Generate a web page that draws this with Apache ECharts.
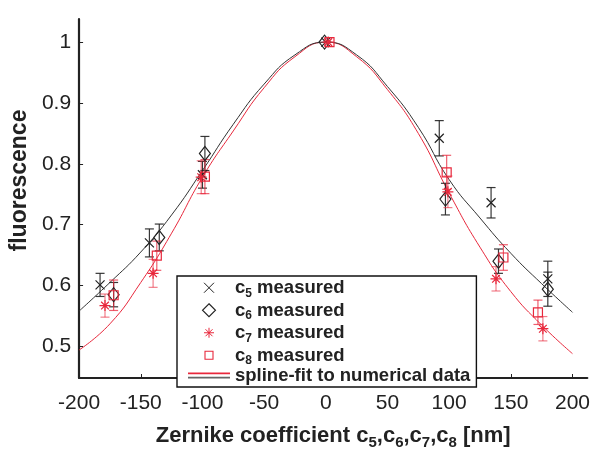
<!DOCTYPE html>
<html>
<head>
<meta charset="utf-8">
<script src="https://cdn.jsdelivr.net/npm/echarts@6/dist/echarts.min.js"></script>
<style>
  html, body { margin: 0; padding: 0; background: #fff; }
  #myChart { width: 593px; height: 455px; }
</style>
</head>
<body>
<div id="myChart"></div>
<script>
// measured points (x in nm, fluorescence, error)
var c5X = [-183, -143, -100, 0, 92, 134, 180];
var c5Y = [0.601, 0.670, 0.782, 1.0, 0.842, 0.736, 0.611];
var c5Err = [0.019, 0.023, 0.022, 0, 0.029, 0.025, 0.029];

var c6X = [-172, -135, -98, -1, 97, 140, 180];
var c6Y = [0.585, 0.679, 0.817, 1.0, 0.742, 0.640, 0.594];
var c6Err = [0.02, 0.022, 0.028, 0, 0.026, 0.02, 0.028];

var c7X = [-179, -140, -101, 2, 99, 138, 176];
var c7Y = [0.567, 0.620, 0.778, 1.0, 0.754, 0.611, 0.529];
var c7Err = [0.019, 0.023, 0.027, 0, 0.026, 0.02, 0.02];

var c8X = [-172, -137, -98, 3, 98, 144, 172];
var c8Y = [0.584, 0.649, 0.779, 1.0, 0.786, 0.646, 0.556];
var c8Err = [0.025, 0.024, 0.028, 0, 0.028, 0.021, 0.02];

// spline fits
var fitX = [-200, -175, -150, -125, -100, -75, -50, -25, 0, 25, 50, 75, 100, 125, 150, 175, 200];
var blackFit = [0.558, 0.605, 0.655, 0.716, 0.789, 0.865, 0.931, 0.979, 1.0, 0.979, 0.927, 0.86, 0.774, 0.711, 0.653, 0.603, 0.556];
var redFit = [0.494, 0.537, 0.605, 0.686, 0.778, 0.854, 0.925, 0.976, 1.0, 0.976, 0.922, 0.85, 0.752, 0.663, 0.59, 0.535, 0.488];

var xTicks = [-200, -150, -100, -50, 0, 50, 100, 150, 200];
var yTicks = [0.5, 0.6, 0.7, 0.8, 0.9, 1];

var BLACK = "#222222";
var RED = "#e8283c";
var FONT = "Liberation Sans, Arial, sans-serif";
var FIT_NAME = "spline-fit to numerical data";

function zip(xs, ys, es) {
  return xs.map(function (x, i) {
    return es ? [x, ys[i], es[i]] : [x, ys[i]];
  });
}

function errorSeries(name, xs, ys, es, color, opacity) {
  return {
    type: "custom",
    name: name + "_err",
    data: zip(xs, ys, es),
    encode: { x: 0, y: 1 },
    silent: true,
    z: 2,
    renderItem: function (params, api) {
      var e = api.value(2);
      if (!e) return null;
      var x = api.value(0), y = api.value(1);
      var top = api.coord([x, y + e]);
      var bot = api.coord([x, y - e]);
      var w = 4.5;
      var style = { stroke: color, lineWidth: 1.2, opacity: opacity };
      return {
        type: "group",
        children: [
          { type: "line", shape: { x1: top[0], y1: top[1], x2: bot[0], y2: bot[1] }, style: style },
          { type: "line", shape: { x1: top[0] - w, y1: top[1], x2: top[0] + w, y2: top[1] }, style: style },
          { type: "line", shape: { x1: bot[0] - w, y1: bot[1], x2: bot[0] + w, y2: bot[1] }, style: style }
        ]
      };
    }
  };
}

function markerSeries(name, xs, ys, symbol, size, color) {
  return {
    type: "scatter",
    name: name,
    data: zip(xs, ys),
    symbol: symbol,
    symbolSize: size,
    z: 4,
    itemStyle: { color: "rgba(0,0,0,0)", borderColor: color, borderWidth: 1.2, opacity: 1 }
  };
}

var P_X = "path://M0,0L10,10M10,0L0,10";
var P_DIAMOND = "path://M5,0L10,6.5L5,13L0,6.5Z";
var P_STAR = "path://M5,0L5,10M0,5L10,5M1.5,1.5L8.5,8.5M8.5,1.5L1.5,8.5";
var P_SQUARE = "path://M0,0L10,0L10,10L0,10Z";

// smaller, padded shapes for the legend so they sit like the original key
var L_X = "path://M0,0L13,13M13,0L0,13M-2,-2M15,15";
var L_DIAMOND = "path://M6.5,0L13,6.5L6.5,13L0,6.5Z";
var L_STAR = "path://M6.5,1.5L6.5,11.5M1.5,6.5L11.5,6.5M3,3L10,10M10,3L3,10M0,0M13,13";
var L_SQUARE = "path://M2.5,2.5L10.5,2.5L10.5,10.5L2.5,10.5Z M0,0M13,13";

var labels = { c5: "5", c6: "6", c7: "7", c8: "8" };

let myChart = echarts.init(document.getElementById("myChart"));
var option = {
  animation: false,
  backgroundColor: "#fff",
  grid: { left: 79, right: 2, top: 19, bottom: 59 },
  legend: {
    orient: "vertical",
    left: 177,
    top: 276,
    padding: [0, 6, 2, 11],
    itemWidth: 42,
    itemHeight: 13,
    itemGap: -1,
    backgroundColor: "#fff",
    borderColor: "#111",
    borderWidth: 1.4,
    selectedMode: false,
    data: [
      { name: "c5", icon: L_X, itemStyle: { borderWidth: 1 } },
      { name: "c6", icon: L_DIAMOND, itemStyle: { borderWidth: 1.1 } },
      { name: "c7", icon: L_STAR, itemStyle: { borderWidth: 1 } },
      { name: "c8", icon: L_SQUARE, itemStyle: { borderWidth: 1.1 } },
      {
        name: FIT_NAME,
        icon: "path://M0,0L40,0L40,1.6L0,1.6Z M0,4L40,4L40,5.6L0,5.6Z",
        itemStyle: {
          borderWidth: 0,
          color: {
            type: "linear", x: 0, y: 0, x2: 0, y2: 1,
            colorStops: [
              { offset: 0, color: RED }, { offset: 0.5, color: RED },
              { offset: 0.5, color: "#666" }, { offset: 1, color: "#666" }
            ]
          }
        }
      }
    ],
    formatter: function (name) {
      if (labels[name]) return "{b|c}{s|" + labels[name] + "}{b| measured}";
      return "{f|" + name + "}";
    },
    textStyle: {
      color: BLACK,
      fontFamily: FONT,
      rich: {
        b: { fontSize: 18.5, fontWeight: "bold", fontFamily: FONT, color: BLACK, lineHeight: 18, verticalAlign: "top" },
        s: { fontSize: 12, fontWeight: "bold", fontFamily: FONT, color: BLACK, lineHeight: 12, padding: [11.5, 0, 0, 0] },
        f: { fontSize: 18.5, fontWeight: "bold", fontFamily: FONT, color: BLACK, lineHeight: 20 }
      }
    }
  },
  xAxis: {
    type: "value",
    min: -200,
    max: 212,
    name: "Zernike coefficient c{s|5},c{s|6},c{s|7},c{s|8} [nm]",
    nameLocation: "middle",
    nameGap: 44,
    nameTextStyle: {
      color: BLACK,
      fontSize: 22,
      fontWeight: "bold",
      fontFamily: FONT,
      verticalAlign: "top",
      rich: {
        s: { fontSize: 15, fontWeight: "bold", fontFamily: FONT, color: BLACK, padding: [13, 0, 0, 0] }
      }
    },
    axisLine: { onZero: false, lineStyle: { color: BLACK, width: 2.2 } },
    axisTick: { inside: true, length: 4, customValues: xTicks, lineStyle: { color: BLACK, width: 1 } },
    axisLabel: {
      customValues: xTicks,
      margin: 15,
      color: BLACK,
      fontSize: 21,
      fontFamily: FONT
    },
    splitLine: { show: false }
  },
  yAxis: {
    type: "value",
    min: 0.448,
    max: 1.038,
    name: "fluorescence",
    nameLocation: "middle",
    nameGap: 46,
    nameTextStyle: {
      color: BLACK,
      fontSize: 23,
      fontWeight: "bold",
      fontFamily: FONT,
      padding: [0, 0, 0, 36]
    },
    axisLine: { show: true, onZero: false, lineStyle: { color: BLACK, width: 2.2 } },
    axisTick: { inside: true, length: 4, customValues: yTicks, lineStyle: { color: BLACK, width: 1 } },
    axisLabel: {
      customValues: yTicks,
      margin: 8,
      color: BLACK,
      fontSize: 21,
      fontFamily: FONT,
      formatter: function (v) { return String(+v.toFixed(1)); }
    },
    splitLine: { show: false }
  },
  series: [
    {
      type: "line", name: FIT_NAME, data: zip(fitX, redFit), smooth: 0.5,
      showSymbol: false, symbol: "none", z: 1, silent: true,
      lineStyle: { color: RED, width: 1 }, itemStyle: { color: RED }
    },
    {
      type: "line", name: FIT_NAME, data: zip(fitX, blackFit), smooth: 0.5,
      showSymbol: false, symbol: "none", z: 1, silent: true,
      lineStyle: { color: "#333", width: 1 }, itemStyle: { color: "#333" }
    },
    errorSeries("c5", c5X, c5Y, c5Err, BLACK, 0.9),
    errorSeries("c6", c6X, c6Y, c6Err, BLACK, 0.9),
    errorSeries("c7", c7X, c7Y, c7Err, RED, 0.6),
    errorSeries("c8", c8X, c8Y, c8Err, RED, 0.75),
    markerSeries("c5", c5X, c5Y, P_X, 9, BLACK),
    markerSeries("c6", c6X, c6Y, P_DIAMOND, [11, 14], BLACK),
    markerSeries("c7", c7X, c7Y, P_STAR, 11, RED),
    markerSeries("c8", c8X, c8Y, P_SQUARE, 9, RED)
  ]
};
myChart.setOption(option);
</script>
</body>
</html>
